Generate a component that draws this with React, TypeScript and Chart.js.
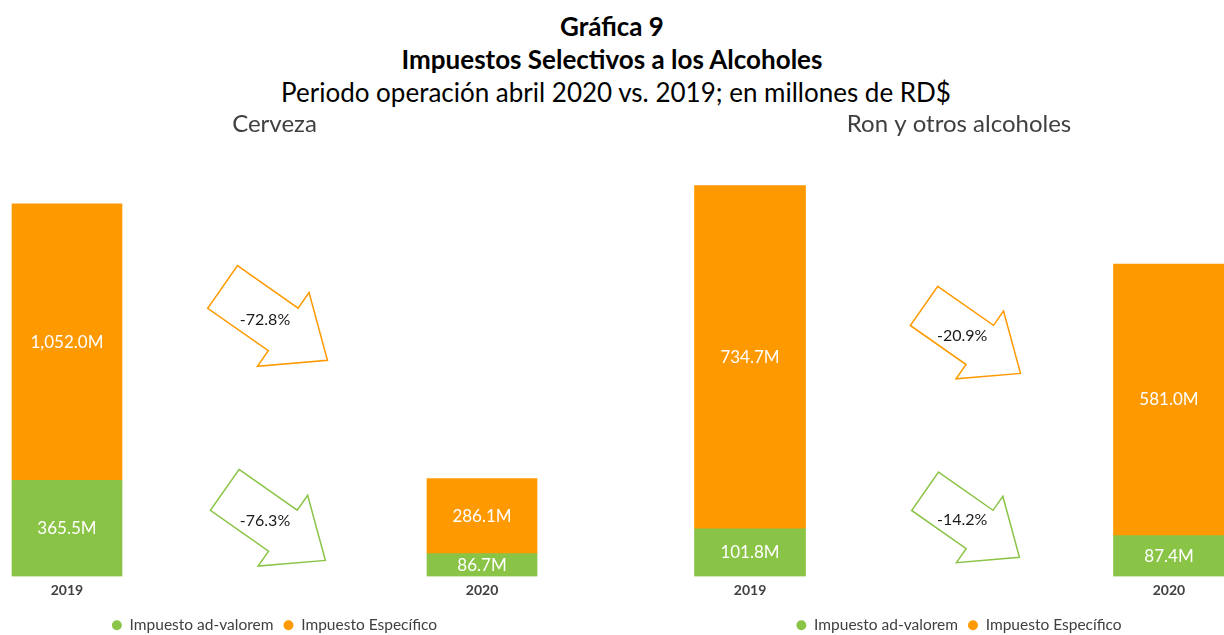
import React, { useEffect, useRef } from 'react';
import { Chart, registerables } from 'chart.js';

Chart.register(...registerables);

// ---------- data ----------
const years = ['2019', '2020'];
const seriesNames = ['Impuesto ad-valorem', 'Impuesto Específico'];

const cervezaAdValorem = [365.5, 86.7];
const cervezaEspecifico = [1052.0, 286.1];
const cervezaChanges = ['-72.8%', '-76.3%']; // específico, ad-valorem

const ronAdValorem = [101.8, 87.4];
const ronEspecifico = [734.7, 581.0];
const ronChanges = ['-20.9%', '-14.2%']; // específico, ad-valorem

// ---------- styles ----------
const FONT = 'Lato, "Noto Sans", sans-serif';
const GREEN = '#8AC446';
const ORANGE = '#FF9900';
const TEXT = '#404040';

// block-arrow outline in local units (u along arrow, v across)
const ARROW_SHAPE: [number, number][] = [
  [-64, -26], [10, -26], [10, -45], [64, 0], [10, 45], [10, 26], [-64, 26],
];

const fmt = (v: number) =>
  v.toLocaleString('en-US', { minimumFractionDigits: 1, maximumFractionDigits: 1 }) + 'M';

type ArrowDef = { fx: number; fy: number; s: number; color: string; label: string };

type PanelProps = {
  title: string;
  adValorem: number[];
  especifico: number[];
  yMax: number;
  xMin: number;
  xMax: number;
  barWidth: number;
  left: number;
  width: number;
  padLeft: number;
  padRight: number;
  arrows: ArrowDef[];
};

function Panel(p: PanelProps) {
  const ref = useRef<HTMLCanvasElement>(null);
  useEffect(() => {
    if (!ref.current) return;
    const dataLabels = {
      id: 'dataLabels',
      afterDatasetsDraw(chart: any) {
        const ctx = chart.ctx;
        ctx.save();
        ctx.font = `17px ${FONT}`;
        ctx.fillStyle = '#ffffff';
        ctx.textAlign = 'center';
        ctx.textBaseline = 'middle';
        chart.data.datasets.forEach((ds: any, di: number) => {
          chart.getDatasetMeta(di).data.forEach((el: any, i: number) => {
            const { x, y, base } = el.getProps(['x', 'y', 'base'], true);
            ctx.fillText(fmt(ds.data[i].y), x, (y + base) / 2);
          });
        });
        ctx.restore();
      },
    };
    const arrowPlugin = {
      id: 'arrows',
      afterDraw(chart: any) {
        const ctx = chart.ctx;
        const { left, right, top, bottom } = chart.chartArea;
        const ang = (35 * Math.PI) / 180;
        const c = Math.cos(ang);
        const s = Math.sin(ang);
        ctx.save();
        p.arrows.forEach((a) => {
          const cx = left + a.fx * (right - left);
          const cy = top + a.fy * (bottom - top);
          ctx.beginPath();
          ARROW_SHAPE.forEach(([u, v], k) => {
            const px = cx + a.s * (u * c - v * s);
            const py = cy + a.s * (u * s + v * c);
            if (k === 0) ctx.moveTo(px, py);
            else ctx.lineTo(px, py);
          });
          ctx.closePath();
          ctx.fillStyle = '#ffffff';
          ctx.fill();
          ctx.lineWidth = 1.5;
          ctx.strokeStyle = a.color;
          ctx.stroke();
          ctx.font = `16px ${FONT}`;
          ctx.fillStyle = '#1a1a1a';
          ctx.textAlign = 'center';
          ctx.textBaseline = 'middle';
          ctx.fillText(a.label, cx - 10, cy - 4);
        });
        ctx.restore();
      },
    };
    const chart = new Chart(ref.current, {
      type: 'bar',
      data: {
        datasets: [
          {
            label: seriesNames[0],
            data: years.map((_, i) => ({ x: i, y: p.adValorem[i] })),
            backgroundColor: GREEN,
            borderWidth: 0,
            stack: 's',
            barThickness: p.barWidth,
          },
          {
            label: seriesNames[1],
            data: years.map((_, i) => ({ x: i, y: p.especifico[i] })),
            backgroundColor: ORANGE,
            borderWidth: 0,
            stack: 's',
            barThickness: p.barWidth,
          },
        ],
      } as any,
      options: {
        animation: false,
        responsive: false,
        maintainAspectRatio: false,
        layout: { padding: { left: p.padLeft, right: p.padRight, top: 0, bottom: 0 } },
        scales: {
          x: {
            type: 'linear',
            offset: false,
            min: p.xMin,
            max: p.xMax,
            grid: { display: false, drawTicks: false, offset: false },
            border: { display: false },
            afterBuildTicks: (axis: any) => {
              axis.ticks = years.map((_, i) => ({ value: i }));
            },
            afterFit: (axis: any) => {
              axis.height = 31;
            },
            ticks: {
              callback: (v: any) => years[v] ?? '',
              padding: 6,
              autoSkip: false,
              maxRotation: 0,
              color: TEXT,
              font: { family: FONT, size: 14, weight: 'bold' },
            },
          },
          y: { display: false, stacked: true, min: 0, max: p.yMax },
        },
        plugins: {
          title: {
            display: true,
            text: p.title,
            color: TEXT,
            font: { family: FONT, size: 24, weight: 'normal' },
            padding: { top: 0, bottom: 17 },
          },
          legend: {
            position: 'bottom',
            labels: {
              usePointStyle: true,
              pointStyle: 'circle',
              boxWidth: 10,
              boxHeight: 7,
              padding: 10,
              color: TEXT,
              font: { family: FONT, size: 15.5 },
            },
          },
          tooltip: { enabled: false },
        },
      } as any,
      plugins: [dataLabels, arrowPlugin],
    });
    return () => chart.destroy();
  }, []);
  return (
    <canvas
      ref={ref}
      width={p.width}
      height={533}
      style={{ position: 'absolute', left: p.left, top: 110, width: p.width, height: 533 }}
    />
  );
}

export default function App() {
  const lineStyle = (top: number, size: number, bold: boolean): React.CSSProperties => ({
    position: 'absolute',
    left: 0,
    top,
    width: 1224,
    textAlign: 'center',
    fontSize: size,
    lineHeight: `${Math.round(size * 1.2)}px`,
    fontWeight: bold ? 'bold' : 'normal',
    color: '#000',
    whiteSpace: 'nowrap',
  });
  return (
    <div
      style={{
        position: 'absolute',
        left: 0,
        top: 0,
        width: 1224,
        height: 635,
        overflow: 'hidden',
        background: '#fff',
        fontFamily: FONT,
      }}
    >
      <div style={lineStyle(11, 26, true)}>Gráfica 9</div>
      <div style={lineStyle(44, 26, true)}>Impuestos Selectivos a los Alcoholes</div>
      <div style={{ ...lineStyle(77, 26, false), left: 4 }}>
        Periodo operación abril 2020 vs. 2019; en millones de RD$
      </div>
      <Panel
        title="Cerveza"
        adValorem={cervezaAdValorem}
        especifico={cervezaEspecifico}
        yMax={1600}
        xMin={-0.1349}
        xMax={1.1349}
        barWidth={110}
        left={0}
        width={548}
        padLeft={11}
        padRight={10}
        arrows={[
          { fx: 0.501, fy: 0.399, s: 1.0, color: ORANGE, label: cervezaChanges[0] },
          { fx: 0.501, fy: 0.878, s: 0.96, color: GREEN, label: cervezaChanges[1] },
        ]}
      />
      <Panel
        title="Ron y otros alcoholes"
        adValorem={ronAdValorem}
        especifico={ronEspecifico}
        yMax={900}
        xMin={-0.1337}
        xMax={1.1313}
        barWidth={111}
        left={694}
        width={530}
        padLeft={0}
        padRight={0}
        arrows={[
          { fx: 0.525, fy: 0.437, s: 0.92, color: ORANGE, label: ronChanges[0] },
          { fx: 0.525, fy: 0.876, s: 0.9, color: GREEN, label: ronChanges[1] },
        ]}
      />
    </div>
  );
}
